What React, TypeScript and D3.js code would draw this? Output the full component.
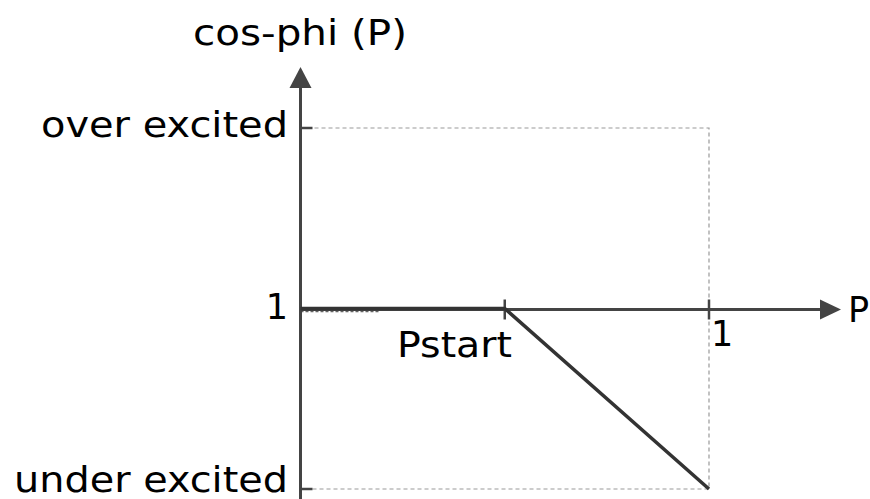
import React from "react";
import * as d3 from "d3";

const xTickValues = [0.5, 1];
const xTickLabels = ["Pstart", "1"];
const yTickValues = [-1, 0, 1];
const yTickLabels = ["under excited", "1", "over excited"];
const curveP = [0, 0.5, 1];
const curveCos = [0, 0, -1];
const axisTitleY = "cos-phi (P)";
const axisTitleX = "P";

export default function App() {
  const W = 870, H = 499;
  const x = d3.scaleLinear().domain([0, 1]).range([300.5, 709]);
  const y = d3.scaleLinear().domain([-1, 1]).range([489, 128]);
  const line = d3.line<number>().x((d, i) => x(curveP[i])).y((d) => y(d));
  const font = "'DejaVu Sans', sans-serif";
  const fs = 35;
  const axisColor = "#444";
  const x0 = x(0), y0 = 309.5;
  const yLabelPos: Record<number, { base: number; len: number | undefined }> = {
    [-1]: { base: 492, len: 274 },
    [0]: { base: 319, len: undefined },
    [1]: { base: 137, len: 247 },
  };
  return (
    <svg width={W} height={H} style={{ position: "absolute", left: 0, top: 0, background: "#fff" }}>
      {/* dashed box */}
      <path d={`M${x0},${y(1)}H${x(1)}V${y(-1)}H${x0}`} fill="none" stroke="#999" strokeWidth={1.2} strokeDasharray="4,3" />
      <line x1={x0} x2={x0 + 80} y1={y0 + 2} y2={y0 + 2} stroke="#666" strokeWidth={1.5} strokeDasharray="3,2" />
      {/* axes */}
      <line x1={x0} x2={x0} y1={H + 2} y2={84} stroke={axisColor} strokeWidth={3} />
      <path d={`M${x0},67 L${x0 - 11},88 L${x0 + 11},88 Z`} fill={axisColor} />
      <line x1={x0} x2={824} y1={y0} y2={y0} stroke={axisColor} strokeWidth={3} />
      <path d={`M841,${y0} L820,${y0 - 10} L820,${y0 + 10} Z`} fill={axisColor} />
      {/* y ticks */}
      {yTickValues.map((v) => (
        <line key={"yt" + v} x1={x0} x2={x0 + 12} y1={y(v)} y2={y(v)} stroke={axisColor} strokeWidth={2.5} />
      ))}
      {/* x ticks */}
      {xTickValues.map((v) => (
        <line key={"xt" + v} x1={x(v)} x2={x(v)} y1={y0 - 10} y2={y0 + 10} stroke={axisColor} strokeWidth={2.5} />
      ))}
      {/* curve */}
      <path d={line(curveCos) || ""} fill="none" stroke="#333" strokeWidth={3.5} />
      {/* labels */}
      {yTickValues.map((v, i) => (
        <text key={"yl" + v} x={288} y={yLabelPos[v].base} textAnchor="end" fontFamily={font} fontSize={fs} fill="#000"
          textLength={yLabelPos[v].len} lengthAdjust={yLabelPos[v].len ? "spacingAndGlyphs" : undefined}>
          {yTickLabels[i]}
        </text>
      ))}
      <text x={397} y={357} fontFamily={font} fontSize={fs} fill="#000" textLength={115} lengthAdjust="spacingAndGlyphs">
        {xTickLabels[0]}
      </text>
      <text x={711} y={346} fontFamily={font} fontSize={fs} fill="#000">
        {xTickLabels[1]}
      </text>
      <text x={193} y={45} fontFamily={font} fontSize={fs} fill="#000" textLength={214} lengthAdjust="spacingAndGlyphs">{axisTitleY}</text>
      <text x={848} y={322} fontFamily={font} fontSize={fs} fill="#000">{axisTitleX}</text>
    </svg>
  );
}
